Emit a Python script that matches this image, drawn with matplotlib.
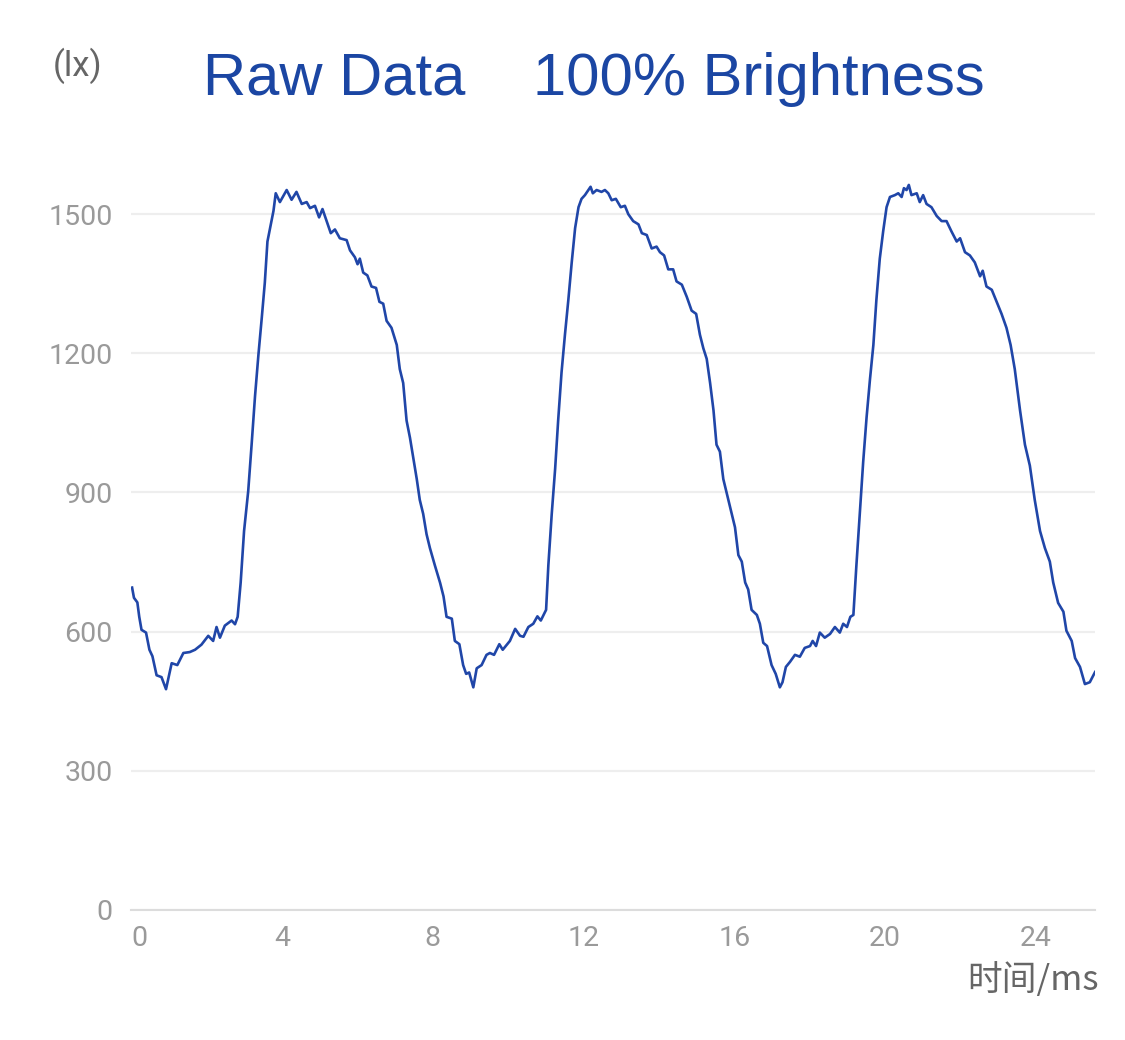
#!/usr/bin/env python3
import matplotlib
matplotlib.use("Agg")
import matplotlib.pyplot as plt

time_ms = [
    0.03, 0.08, 0.17, 0.22, 0.28, 0.40, 0.49, 0.57, 0.68, 0.81,
    0.93, 1.08, 1.23, 1.39, 1.56, 1.70, 1.87, 2.05, 2.18, 2.27,
    2.36, 2.49, 2.67, 2.76, 2.83, 2.91, 3.00, 3.11, 3.20, 3.29,
    3.38, 3.47, 3.55, 3.62, 3.69, 3.78, 3.84, 3.95, 4.13, 4.26,
    4.39, 4.53, 4.66, 4.75, 4.88, 4.99, 5.08, 5.19, 5.30, 5.41,
    5.54, 5.72, 5.81, 5.94, 6.01, 6.07, 6.16, 6.27, 6.38, 6.50,
    6.59, 6.69, 6.78, 6.91, 7.05, 7.13, 7.22, 7.31, 7.40, 7.49,
    7.58, 7.66, 7.75, 7.84, 7.93, 8.06, 8.20,
    8.29, 8.37, 8.51, 8.59, 8.71, 8.81, 8.89, 8.97, 9.08, 9.17,
    9.30, 9.43, 9.52, 9.63, 9.77, 9.86, 10.05, 10.19, 10.32, 10.41,
    10.54, 10.67, 10.78, 10.87, 11.01, 11.07, 11.16, 11.25, 11.33, 11.42,
    11.51, 11.60, 11.69, 11.78, 11.87, 11.95, 12.04, 12.13, 12.19, 12.25,
    12.35, 12.48, 12.57, 12.66, 12.75, 12.86, 12.99, 13.10, 13.19, 13.32,
    13.46, 13.55, 13.68, 13.81, 13.94, 14.03, 14.14, 14.25, 14.38, 14.47,
    14.61, 14.74, 14.87, 14.99, 15.09, 15.18, 15.27, 15.36, 15.45, 15.53,
    15.62, 15.71, 15.80, 15.89, 16.02, 16.11, 16.20, 16.29, 16.37, 16.46,
    16.60,
    16.68, 16.77, 16.87, 16.99, 17.10, 17.21, 17.28, 17.37, 17.48, 17.61,
    17.74, 17.87, 18.01, 18.08, 18.17, 18.27, 18.40, 18.54, 18.67, 18.80,
    18.89, 18.99, 19.08, 19.16, 19.24, 19.33, 19.42, 19.51, 19.60, 19.69,
    19.77, 19.86, 19.95, 20.04, 20.13, 20.26, 20.35, 20.44, 20.50, 20.57,
    20.63, 20.70, 20.84, 20.92, 21.01, 21.10, 21.23, 21.37, 21.50, 21.63,
    21.76, 21.90, 21.99, 22.12, 22.25, 22.38, 22.52, 22.59, 22.69, 22.83,
    22.96, 23.09, 23.22, 23.33, 23.44, 23.58, 23.71, 23.84, 23.97, 24.11,
    24.24, 24.37, 24.46, 24.59, 24.73, 24.81, 24.95, 25.04, 25.17, 25.30,
    25.43, 25.57,
]
lux = [
    695, 673, 663, 632, 604, 598, 561, 547, 506, 502,
    476, 532, 528, 554, 556, 561, 572, 591, 580, 610,
    587, 613, 624, 616, 632, 706, 817, 903, 1003, 1107,
    1196, 1277, 1352, 1441, 1470, 1507, 1545, 1526, 1552, 1531,
    1548, 1522, 1526, 1513, 1518, 1493, 1511, 1485, 1459, 1467,
    1448, 1444, 1422, 1407, 1392, 1404, 1374, 1368, 1344, 1341,
    1311, 1307, 1270, 1255, 1218, 1166, 1136, 1055, 1018, 973,
    929, 884, 854, 810, 780, 743, 705,
    676, 632, 628, 580, 573, 528, 509, 512, 480, 521,
    528, 550, 554, 550, 573, 561, 580, 606, 591, 589,
    610, 617, 633, 624, 647, 743, 854, 951, 1055, 1159,
    1240, 1315, 1396, 1470, 1515, 1533, 1541, 1552, 1559, 1545,
    1552, 1548, 1552, 1545, 1530, 1533, 1515, 1518, 1500, 1485,
    1478, 1459, 1455, 1426, 1430, 1418, 1411, 1381, 1381, 1355,
    1348, 1322, 1292, 1285, 1240, 1211, 1188, 1136, 1077, 1003,
    988, 929, 899, 869, 825, 765, 751, 706, 691, 647,
    636,
    617, 576, 569, 528, 509, 480, 491, 524, 535, 550,
    546, 565, 569, 580, 569, 598, 587, 595, 610, 598,
    617, 610, 632, 636, 743, 854, 966, 1062, 1144, 1218,
    1315, 1404, 1463, 1515, 1537, 1541, 1545, 1537, 1556, 1552,
    1563, 1541, 1545, 1526, 1541, 1522, 1515, 1496, 1485, 1485,
    1463, 1441, 1448, 1418, 1411, 1396, 1366, 1378, 1344, 1337,
    1311, 1285, 1255, 1218, 1166, 1077, 1003, 958, 884, 817,
    780, 751, 706, 662, 643, 602, 580, 543, 524, 487,
    491, 513,
]

x_ticks = [0, 4, 8, 12, 16, 20, 24]
y_ticks = [0, 300, 600, 900, 1200, 1500]

LINE_BLUE = "#2046a8"
TITLE_BLUE = "#1b46a3"


def main() -> None:
    fig = plt.figure(figsize=(11.25, 10.4), dpi=100)
    ax = fig.add_axes([0.1164, 0.125, 0.857, 0.736])

    ax.plot(time_ms, lux, color=LINE_BLUE, linewidth=1.9, solid_joinstyle="round")

    ax.set_xlim(0, 25.57)
    ax.set_ylim(0, 1650)
    ax.set_xticks(x_ticks)
    ax.set_yticks(y_ticks)
    ax.set_xticklabels([str(t) for t in x_ticks])
    ax.set_yticklabels([str(t) for t in y_ticks])

    for side in ["top", "right", "left"]:
        ax.spines[side].set_visible(False)
    ax.spines["bottom"].set_color("#dcdcdc")
    ax.spines["bottom"].set_linewidth(1.5)

    ax.grid(True, axis="y", color="#eeeeee", linewidth=1.6)
    ax.set_axisbelow(True)

    ax.tick_params(axis="both", length=0, labelcolor="#9a9a9a", labelsize=20.5)
    ax.tick_params(axis="y", pad=13)
    ax.tick_params(axis="x", pad=11)
    for lab in ax.get_xticklabels() + ax.get_yticklabels():
        lab.set_family("Roboto")
    ax.get_xticklabels()[0].set_horizontalalignment("left")

    fig.text(0.1804, 0.9087, "Raw Data", color=TITLE_BLUE, fontsize=43,
             family="Liberation Sans", va="baseline", ha="left")
    fig.text(0.4738, 0.9087, "100% Brightness", color=TITLE_BLUE, fontsize=43,
             family="Liberation Sans", va="baseline", ha="left")

    fig.text(78 / 1125, 1 - 66 / 1040, "(lx)", color="#666666", fontsize=25,
             family="Roboto", va="center", ha="center")
    fig.text(1099 / 1125, 1 - 981 / 1040, "时间/ms", color="#666666", fontsize=25,
             family=["Noto Sans CJK SC", "DejaVu Sans"], va="center", ha="right")

    fig.savefig("out.png", dpi=100, facecolor="white")


if __name__ == '__main__':
    main()
